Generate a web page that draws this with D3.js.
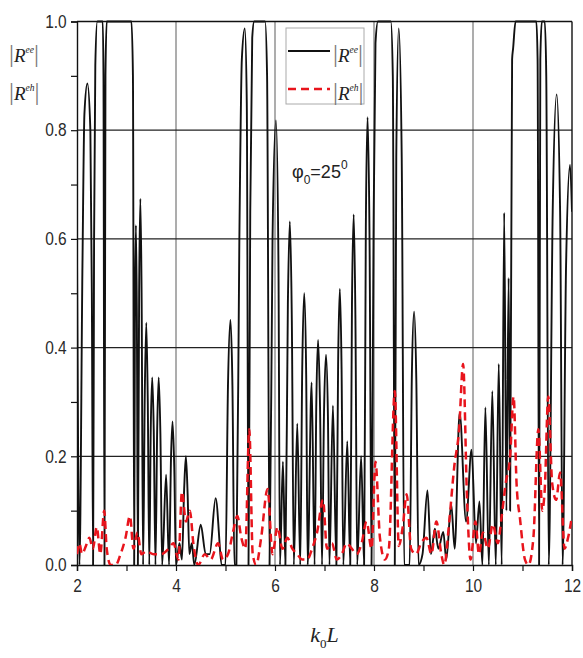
<!DOCTYPE html>
<html>
<head>
<meta charset="utf-8">
<script src="https://cdn.jsdelivr.net/npm/d3@7"></script>
<style>
body { margin: 0; background: #fff; }
</style>
</head>
<body>
<script>
// |R^ee|: [k0L, value]
var ee = [
  [2.00,0.57],[2.05,0.0],[2.11,0.55],[2.15,0.83],[2.21,0.886],[2.27,0.8],[2.30,0.5],[2.325,0.0],
  [2.345,0.6],[2.37,0.92],[2.41,1.0],[2.52,1.0],[2.535,0.9],[2.555,0.0],[2.575,0.9],[2.60,1.0],
  [3.10,1.0],[3.13,0.9],[3.155,0.0],[3.17,0.45],[3.19,0.625],[3.21,0.45],[3.23,0.0],
  [3.255,0.5],[3.28,0.674],[3.305,0.5],[3.335,0.0],
  [3.37,0.32],[3.40,0.446],[3.43,0.3],[3.46,0.0],[3.49,0.25],[3.52,0.345],[3.55,0.25],[3.585,0.0],
  [3.62,0.25],[3.65,0.345],[3.685,0.24],[3.72,0.0],
  [3.80,0.166],[3.86,0.0],[3.90,0.2],[3.93,0.264],[3.965,0.18],[4.00,0.0],[4.07,0.04],[4.12,0.01],
  [4.165,0.14],[4.20,0.2],[4.235,0.13],[4.27,0.02],[4.32,0.04],[4.37,0.0],[4.50,0.074],[4.60,0.02],[4.68,0.02],
  [4.80,0.123],[4.93,0.0],[5.00,0.0],[5.05,0.33],[5.10,0.451],[5.14,0.33],[5.18,0.0],
  [5.22,0.0],[5.28,0.6],[5.33,0.93],[5.39,0.987],[5.43,0.85],[5.465,0.0],
  [5.50,0.65],[5.54,0.97],[5.58,1.0],[5.80,1.0],[5.84,0.9],[5.89,0.0],
  [5.95,0.6],[6.02,0.818],[6.07,0.55],[6.10,0.0],[6.16,0.19],[6.21,0.0],
  [6.26,0.48],[6.30,0.632],[6.34,0.45],[6.38,0.0],[6.45,0.26],[6.51,0.0],
  [6.55,0.36],[6.59,0.5],[6.63,0.35],[6.66,0.0],[6.74,0.336],[6.80,0.0],
  [6.835,0.3],[6.87,0.414],[6.91,0.29],[6.95,0.0],[6.99,0.28],[7.03,0.387],[7.07,0.27],[7.10,0.0],
  [7.17,0.293],[7.24,0.0],[7.275,0.37],[7.31,0.508],[7.345,0.36],[7.38,0.0],[7.46,0.228],[7.52,0.0],
  [7.555,0.48],[7.59,0.645],[7.625,0.45],[7.66,0.0],[7.74,0.2],[7.80,0.0],
  [7.835,0.62],[7.87,0.824],[7.91,0.6],[7.95,0.0],
  [7.99,0.6],[8.03,0.96],[8.08,1.0],[8.34,1.0],[8.38,0.9],[8.42,0.0],
  [8.45,0.75],[8.50,0.987],[8.56,0.75],[8.61,0.0],[8.72,0.0],[8.765,0.35],[8.81,0.466],[8.855,0.34],[8.90,0.0],
  [8.98,0.02],[9.08,0.137],[9.15,0.02],[9.23,0.067],[9.30,0.03],[9.40,0.061],[9.46,0.01],
  [9.56,0.112],[9.63,0.03],[9.73,0.28],[9.86,0.08],[9.97,0.212],[10.06,0.04],
  [10.13,0.117],[10.19,0.0],[10.25,0.29],[10.32,0.0],[10.39,0.32],[10.46,0.0],
  [10.52,0.37],[10.58,0.0],[10.63,0.648],[10.675,0.1],[10.72,0.528],[10.75,0.1],
  [10.79,0.93],[10.81,0.95],[10.86,1.0],[11.28,1.0],[11.305,0.93],[11.335,0.0],
  [11.36,0.93],[11.39,1.0],[11.45,1.0],[11.48,0.9],[11.53,0.0],
  [11.61,0.65],[11.69,0.866],[11.76,0.65],[11.81,0.0],[11.88,0.55],[11.96,0.736],[12.00,0.65]
];

// |R^eh|
var eh = [
  [2.00,0.02],[2.05,0.04],[2.10,0.02],[2.18,0.035],[2.25,0.05],[2.32,0.03],[2.40,0.07],
  [2.47,0.02],[2.55,0.10],[2.60,0.03],[2.68,0.0],[2.78,0.0],[2.88,0.02],[2.98,0.05],
  [3.07,0.09],[3.14,0.03],[3.22,0.06],[3.30,0.02],[3.40,0.025],[3.55,0.02],[3.70,0.02],
  [3.85,0.03],[3.95,0.04],[4.05,0.01],[4.12,0.135],[4.20,0.08],[4.28,0.10],[4.35,0.04],
  [4.45,0.0],[4.58,0.02],[4.70,0.01],[4.85,0.04],[4.95,0.01],[5.05,0.02],[5.15,0.06],
  [5.24,0.09],[5.32,0.05],[5.40,0.03],[5.48,0.25],[5.55,0.02],[5.62,0.0],[5.72,0.05],
  [5.85,0.14],[5.95,0.02],[6.05,0.07],[6.15,0.03],[6.25,0.05],[6.35,0.03],[6.45,0.02],
  [6.55,0.01],[6.65,0.01],[6.75,0.03],[6.85,0.06],[6.97,0.12],[7.05,0.03],[7.15,0.04],
  [7.25,0.01],[7.35,0.02],[7.45,0.04],[7.55,0.03],[7.65,0.02],[7.75,0.04],[7.85,0.08],
  [7.95,0.03],[8.03,0.19],[8.12,0.05],[8.22,0.01],[8.30,0.03],[8.42,0.32],[8.50,0.035],
  [8.58,0.07],[8.66,0.13],[8.75,0.03],[8.85,0.02],[8.95,0.04],[9.06,0.05],[9.16,0.02],
  [9.26,0.08],[9.36,0.02],[9.42,0.0],[9.52,0.08],[9.62,0.18],[9.72,0.25],[9.80,0.37],
  [9.88,0.12],[9.95,0.01],[10.05,0.08],[10.12,0.02],[10.20,0.06],[10.30,0.03],[10.40,0.075],
  [10.50,0.04],[10.58,0.09],[10.66,0.15],[10.75,0.20],[10.82,0.31],[10.88,0.15],[10.95,0.085],
  [11.05,0.01],[11.12,0.0],[11.22,0.05],[11.32,0.25],[11.40,0.10],[11.45,0.14],[11.52,0.31],
  [11.60,0.15],[11.68,0.12],[11.76,0.17],[11.85,0.03],[11.92,0.05],[12.00,0.09]
];

var xTicks = [2,3,4,5,6,7,8,9,10,11,12];
var yTicks = [0,0.1,0.2,0.3,0.4,0.5,0.6,0.7,0.8,0.9,1.0];
var xGrid = [4,6,8,10];
var yGrid = [0.2,0.4,0.6,0.8];

var margin = {top: 21.5, right: 11, bottom: 93, left: 77},
    width = 583 - margin.left - margin.right,
    height = 658 - margin.top - margin.bottom;

var svg = d3.select("body").append("svg")
    .attr("width", 583)
    .attr("height", 658);

var g = svg.append("g")
    .attr("transform", "translate(" + margin.left + "," + margin.top + ")");

var x = d3.scaleLinear().domain([2, 12]).range([0, width]);
var y = d3.scaleLinear().domain([0, 1]).range([height, 0]);

var sans = "'Liberation Sans Narrow','Arial Narrow','Liberation Sans',Arial,sans-serif";
var serif = "'Liberation Serif','Times New Roman',serif";

// grid
g.selectAll(".vgrid").data(xGrid).enter().append("line")
    .attr("x1", d => x(d)).attr("x2", d => x(d))
    .attr("y1", 0).attr("y2", height)
    .attr("stroke", "#8a8a8a").attr("stroke-width", 1.4);
g.selectAll(".hgrid").data(yGrid).enter().append("line")
    .attr("x1", 0).attr("x2", width)
    .attr("y1", d => y(d)).attr("y2", d => y(d))
    .attr("stroke", "#222").attr("stroke-width", 1.2);

// frame top + right
g.append("line").attr("x1", 0).attr("x2", width).attr("y1", 0).attr("y2", 0)
    .attr("stroke", "#111").attr("stroke-width", 1.4);
g.append("line").attr("x1", width).attr("x2", width).attr("y1", 0).attr("y2", height)
    .attr("stroke", "#111").attr("stroke-width", 1.4);

// axes
var xAxis = g.append("g")
    .attr("transform", "translate(0," + height + ")")
    .call(d3.axisBottom(x).tickValues(xTicks).tickSize(6).tickPadding(8)
      .tickFormat(d => d % 2 === 0 ? d : ""));
var yAxis = g.append("g")
    .call(d3.axisLeft(y).tickValues(yTicks).tickSize(6).tickPadding(6)
      .tickFormat(d => Math.round(d * 10) % 2 === 0 ? d3.format(".1f")(d) : ""));

[xAxis, yAxis].forEach(function(a) {
  a.select(".domain").attr("stroke", "#111").attr("stroke-width", 1.4);
  a.selectAll(".tick line").attr("stroke", "#111").attr("stroke-width", 1.2);
  a.selectAll(".tick text").attr("font-family", sans).attr("font-size", 18).attr("fill", "#2a2a2a")
      .attr("transform", "scale(0.86,1)");
});

// curves
svg.append("clipPath").attr("id", "clip").append("rect")
    .attr("x", 0).attr("y", -2).attr("width", width).attr("height", height + 2);

var line = d3.line()
    .x(d => x(d[0]))
    .y(d => y(d[1]))
    .curve(d3.curveMonotoneX);

var plot = g.append("g").attr("clip-path", "url(#clip)");

plot.append("path").datum(ee)
    .attr("d", line)
    .attr("fill", "none")
    .attr("stroke", "#111")
    .attr("stroke-width", 1.9);

plot.append("path").datum(eh)
    .attr("d", line)
    .attr("fill", "none")
    .attr("stroke", "#e8141c")
    .attr("stroke-width", 2.5)
    .attr("stroke-dasharray", "8,5");

// |R^xx| label helper
function rLabel(sel, px, py, sup, size) {
  var t = sel.append("text").attr("x", px).attr("y", py)
      .attr("font-family", serif).attr("font-size", size).attr("fill", "#222");
  t.append("tspan").attr("fill", "#777").attr("font-size", size * 1.3).text("|");
  t.append("tspan").attr("font-style", "italic").text("R");
  t.append("tspan").attr("font-style", "italic").attr("font-size", size * 0.5)
      .attr("dy", -size * 0.45).text(sup);
  t.append("tspan").attr("fill", "#777").attr("font-size", size * 1.3)
      .attr("dy", size * 0.45).text("|");
}

// y axis title
rLabel(svg, 9, 62, "ee", 19);
rLabel(svg, 9, 100, "eh", 19);

// x axis title
var xt = svg.append("text")
    .attr("x", margin.left + width / 2).attr("y", 642)
    .attr("text-anchor", "middle")
    .attr("font-family", serif).attr("font-size", 22).attr("font-style", "italic").attr("fill", "#222");
xt.append("tspan").text("k");
xt.append("tspan").attr("font-size", 13).attr("font-style", "normal").attr("dy", 6).text("0");
xt.append("tspan").attr("dy", -6).text("L");

// legend
var lg = svg.append("g");
lg.append("rect").attr("x", 286).attr("y", 28).attr("width", 78).attr("height", 76)
    .attr("fill", "#fff").attr("stroke", "#aaa").attr("stroke-width", 1);
lg.append("line").attr("x1", 288).attr("x2", 330).attr("y1", 51).attr("y2", 51)
    .attr("stroke", "#111").attr("stroke-width", 1.9);
lg.append("line").attr("x1", 288).attr("x2", 330).attr("y1", 89).attr("y2", 89)
    .attr("stroke", "#e8141c").attr("stroke-width", 2.5).attr("stroke-dasharray", "8,5");
rLabel(lg, 333, 62, "ee", 19);
rLabel(lg, 333, 100, "eh", 19);

// annotation phi0 = 25^0
var an = svg.append("text").attr("x", 292).attr("y", 178)
    .attr("font-family", "'Liberation Sans',Arial,sans-serif").attr("font-size", 18).attr("fill", "#222");
an.append("tspan").text("φ");
an.append("tspan").attr("font-size", 12).attr("dy", 6).text("0");
an.append("tspan").attr("dy", -6).text("=25");
an.append("tspan").attr("font-size", 12).attr("dy", -9).text("0");
</script>
</body>
</html>
